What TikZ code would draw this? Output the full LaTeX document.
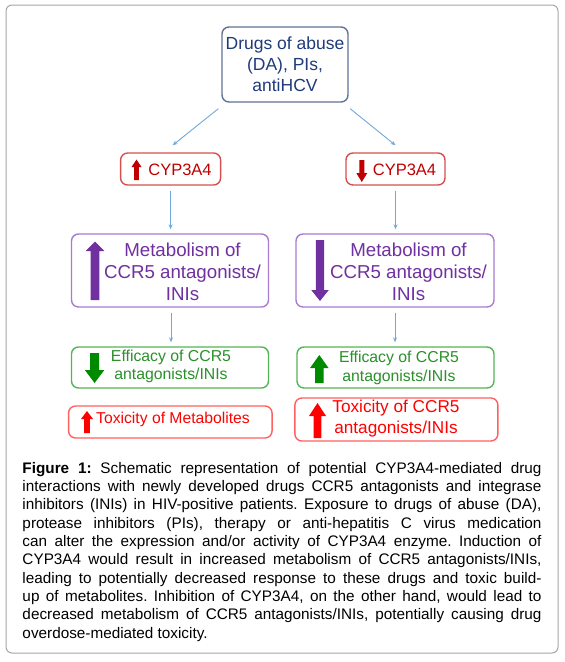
\documentclass[tikz,border=0pt]{standalone}
\usepackage{fontspec}
\setmainfont{Liberation Sans}
\usetikzlibrary{arrows.meta}

\definecolor{framegray}{HTML}{A6A6A6}
\definecolor{srcline}{HTML}{5F7397}
\definecolor{srctext}{HTML}{1F3B7A}
\definecolor{linkblue}{HTML}{6FA8DC}
\definecolor{cypline}{HTML}{D45050}
\definecolor{cyptext}{HTML}{C00000}
\definecolor{metline}{HTML}{A87BD2}
\definecolor{mettext}{HTML}{7030A0}
\definecolor{effline}{HTML}{55B555}
\definecolor{efftext}{HTML}{2A902A}
\definecolor{effarrow}{HTML}{008A00}
\definecolor{toxline}{HTML}{FF6060}
\definecolor{toxtext}{HTML}{FF0000}

% block arrow: colour, x, tail y, head base y, tip y, width
\newcommand{\fatarrow}[6]{%
  \fill[#1] ({#2-0.23*#6},#3) -- ({#2-0.23*#6},#4) -- ({#2-0.5*#6},#4)
    -- (#2,#5) -- ({#2+0.5*#6},#4) -- ({#2+0.23*#6},#4)
    -- ({#2+0.23*#6},#3) -- cycle;}

\newlength{\capw}
\setlength{\capw}{519pt}
\frenchspacing

\begin{document}
\begin{tikzpicture}[x=1pt,y=-1pt]
\tikzset{
  box/.style={draw, line width=1.4pt, rounded corners=7pt, fill=white, inner sep=0pt},
  label/.style={align=center, inner sep=0pt},
  link/.style={draw=linkblue, line width=0.9pt, -{Stealth[length=5pt,width=4pt]}},
}
\useasboundingbox (0,0) rectangle (565,662);
\draw[framegray, line width=1pt, rounded corners=6pt] (6,5) rectangle (558,653);

% source
\node[box, draw=srcline, minimum width=126pt, minimum height=75pt] (src) at (285,64.5) {};
\node[label, text=srctext, font=\fontsize{17.5}{21}\selectfont] (srcText) at (285,64.5)
  {Drugs of abuse\\(DA), PIs,\\antiHCV};

% CYP3A4 boxes
\node[box, draw=cypline, minimum width=100pt, minimum height=32pt] (cypL) at (170.6,169) {};
\node[box, draw=cypline, minimum width=99pt, minimum height=32pt] (cypR) at (395.5,169) {};
\node[label, text=cyptext, font=\fontsize{16.5}{20}\selectfont] (cypLText) at (180,170) {CYP3A4};
\node[label, text=cyptext, font=\fontsize{16.5}{20}\selectfont] (cypRText) at (404.5,170) {CYP3A4};
\fatarrow{cyptext}{136.5}{180}{167}{159.5}{10}
\fatarrow{cyptext}{361.8}{160}{173}{182}{11}

% metabolism boxes
\node[box, draw=metline, minimum width=197pt, minimum height=73pt] (metL) at (170,270.5) {};
\node[box, draw=metline, minimum width=198pt, minimum height=73pt] (metR) at (395,270.5) {};
\node[label, text=mettext, font=\fontsize{18.7}{22.3}\selectfont] (metLText) at (182.5,272)
  {Metabolism of\\CCR5 antagonists/\\INIs};
\node[label, text=mettext, font=\fontsize{18.7}{22.3}\selectfont] (metRText) at (408.5,272)
  {Metabolism of\\CCR5 antagonists/\\INIs};
\fatarrow{mettext}{95}{300}{251}{241.5}{18.5}
\fatarrow{mettext}{320}{240}{290}{301}{17.5}

% efficacy boxes
\node[box, draw=effline, minimum width=197pt, minimum height=41pt] (effL) at (170,367.5) {};
\node[box, draw=effline, minimum width=197pt, minimum height=41pt] (effR) at (395.5,367.5) {};
\node[label, text=efftext, font=\fontsize{15.8}{18.5}\selectfont] (effLText) at (171,366.5)
  {Efficacy of CCR5\\antagonists/INIs};
\node[label, text=efftext, font=\fontsize{15.8}{19}\selectfont] (effRText) at (399,367.5)
  {Efficacy of CCR5\\antagonists/INIs};
\fatarrow{effarrow}{94.6}{353}{370}{383}{19.5}
\fatarrow{effarrow}{319.3}{383}{368}{355}{18.5}

% toxicity boxes
\node[box, draw=toxline, minimum width=203.5pt, minimum height=32pt] (toxL) at (170.3,422) {};
\node[box, draw=toxline, minimum width=203pt, minimum height=43pt] (toxR) at (396.4,419.5) {};
\node[label, text=toxtext, font=\fontsize{15.7}{19}\selectfont] (toxLText) at (173,419)
  {Toxicity of Metabolites};
\node[label, text=toxtext, font=\fontsize{17.2}{21}\selectfont] (toxRText) at (396,418.5)
  {Toxicity of CCR5\\antagonists/INIs};
\fatarrow{toxtext}{87}{433}{419}{411}{12}
\fatarrow{toxtext}{317.5}{438}{416}{403}{17}

% connectors
\draw[link] ([xshift=-3pt,yshift=-6pt]src.south west) -- ([xshift=2pt,yshift=7pt]cypL.north);
\draw[link] ([xshift=1.5pt,yshift=-6pt]src.south east) -- ([yshift=7pt]cypR.north);
\draw[link] ([yshift=-5pt]cypL.south) -- ([yshift=4pt]cypL.south |- metL.north);
\draw[link] ([yshift=-5pt]cypR.south) -- ([yshift=4pt]cypR.south |- metR.north);
\draw[link] ([xshift=1pt,yshift=-5pt]metL.south) -- ([xshift=1pt,yshift=4pt]metL.south |- effL.north);
\draw[link] ([yshift=-5pt]metR.south) -- ([yshift=4pt]metR.south |- effR.north);

% caption
\node[align=left, inner sep=0pt, anchor=north west, font=\fontsize{15.3}{18.33}\selectfont] (caption) at (22.3,462)
  {\makebox[\capw][s]{\textbf{Figure 1:} Schematic representation of potential CYP3A4-mediated drug}\\
   \makebox[\capw][s]{interactions with newly developed drugs CCR5 antagonists and integrase}\\
   \makebox[\capw][s]{inhibitors (INIs) in HIV-positive patients. Exposure to drugs of abuse (DA),}\\
   \makebox[\capw][s]{protease inhibitors (PIs), therapy or anti-hepatitis C virus medication}\\
   \makebox[\capw][s]{can alter the expression and/or activity of CYP3A4 enzyme. Induction of}\\
   \makebox[\capw][s]{CYP3A4 would result in increased metabolism of CCR5 antagonists/INIs,}\\
   \makebox[\capw][s]{leading to potentially decreased response to these drugs and toxic build-}\\
   \makebox[\capw][s]{up of metabolites. Inhibition of CYP3A4, on the other hand, would lead to}\\
   \makebox[\capw][s]{decreased metabolism of CCR5 antagonists/INIs, potentially causing drug}\\
   overdose-mediated toxicity.};
\end{tikzpicture}
\end{document}
